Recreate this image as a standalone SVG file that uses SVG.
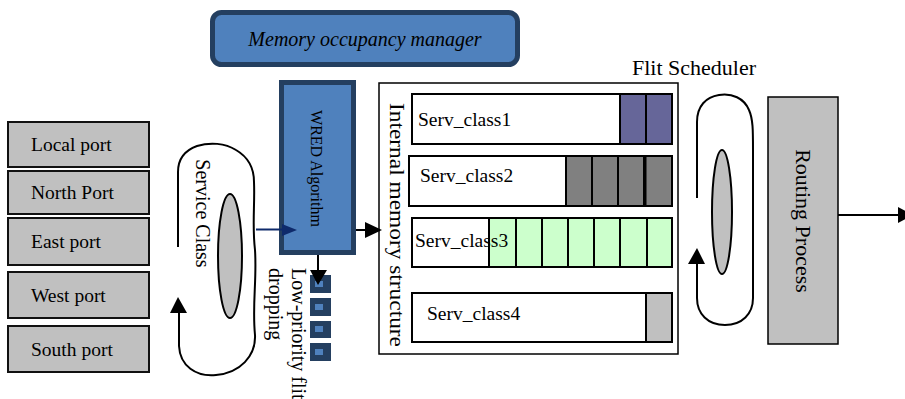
<svg xmlns="http://www.w3.org/2000/svg" width="905" height="399" viewBox="0 0 905 399">
  <defs>
    <style>
      text { font-family: "Liberation Serif", "Times New Roman", serif; fill: #000; }
      .port rect { fill: #c0c0c0; stroke: #111; stroke-width: 2; }
      .port text { font-size: 19.5px; }
      .blue { fill: #4f81bd; stroke: #243f60; stroke-width: 5; }
      .queue { fill: #fff; stroke: #000; stroke-width: 2; }
      .cell { stroke: #000; stroke-width: 2; }
      .qlabel { font-size: 19.5px; }
      .loop { fill: none; stroke: #000; stroke-width: 2; }
      .hub { fill: #c0c0c0; stroke: #000; stroke-width: 2; }
      .line { stroke: #000; stroke-width: 2; fill: none; }
      .flit { fill: #243f60; }
      .flit-in { fill: #4f81bd; }
    </style>
  </defs>

  <!-- Input ports -->
  <g id="local-port" class="port"><rect x="8" y="122" width="141" height="45"/><text x="31" y="151">Local port</text></g>
  <g id="north-port" class="port"><rect x="8" y="171" width="141" height="43"/><text x="31" y="199">North Port</text></g>
  <g id="east-port" class="port"><rect x="8" y="218" width="141" height="47"/><text x="31" y="248">East port</text></g>
  <g id="west-port" class="port"><rect x="8" y="272" width="141" height="46"/><text x="31" y="302">West port</text></g>
  <g id="south-port" class="port"><rect x="8" y="326" width="141" height="46"/><text x="31" y="356">South port</text></g>

  <!-- Service class selector loop -->
  <g id="service-class">
    <path class="loop" d="M178,247 L178,172 C178,158 186,150 197,146 C210,142 225,143 236,150 C248,157 254,167 254,182 C255,205 252,225 255,250 C257,280 252,305 255,335 C256,356 240,373 216,375 C196,377 180,366 179,346 L179,312"/>
    <polygon points="178,297 170,313 187,313" fill="#000"/>
    <ellipse class="hub" cx="230" cy="256" rx="12" ry="62"/>
    <text transform="translate(196,213.5) rotate(90)" text-anchor="middle" font-size="20">Service Class</text>
  </g>

  <!-- Memory occupancy manager -->
  <g id="memory-manager">
    <rect class="blue" x="212.5" y="12.5" width="305" height="52" rx="9"/>
    <text x="365" y="46" text-anchor="middle" font-size="20" font-style="italic">Memory occupancy manager</text>
  </g>

  <!-- WRED algorithm -->
  <g id="wred">
    <rect class="blue" x="281.5" y="82.5" width="72" height="170"/>
    <text transform="translate(311,168.5) rotate(90)" text-anchor="middle" font-size="16">WRED Algorithm</text>
  </g>

  <!-- Dropped low-priority flits -->
  <g id="dropped-flits">
    <rect class="flit" x="310" y="275" width="21" height="18"/><rect class="flit-in" x="315" y="281" width="8" height="6"/>
    <rect class="flit" x="310" y="298" width="21" height="18"/><rect class="flit-in" x="315" y="304" width="8" height="6"/>
    <rect class="flit" x="310" y="321" width="21" height="17"/><rect class="flit-in" x="315" y="326" width="8" height="6"/>
    <rect class="flit" x="310" y="343" width="21" height="18"/><rect class="flit-in" x="315" y="349" width="8" height="6"/>
    <text transform="translate(292,268) rotate(90)" font-size="20">Low-priority flit</text>
    <text transform="translate(269,268) rotate(90)" font-size="20">dropping</text>
  </g>

  <!-- Internal memory structure -->
  <g id="memory-structure">
    <rect x="379" y="83" width="299" height="271" fill="#fff" stroke="#000" stroke-width="1.5"/>
    <text transform="translate(390,103) rotate(90)" font-size="22" textLength="244" lengthAdjust="spacingAndGlyphs">Internal memory structure</text>
  </g>

  <g id="serv-class1">
    <rect class="queue" x="412" y="94" width="260" height="50"/>
    <rect class="cell" x="620" y="94" width="26" height="50" fill="#666699"/>
    <rect class="cell" x="646" y="94" width="26" height="50" fill="#666699"/>
    <text class="qlabel" x="418" y="126">Serv_class1</text>
  </g>

  <g id="serv-class2">
    <rect class="queue" x="409" y="156" width="263" height="50"/>
    <rect class="cell" x="566" y="156" width="26" height="50" fill="#808080"/>
    <rect class="cell" x="592" y="156" width="26" height="50" fill="#808080"/>
    <rect class="cell" x="618" y="156" width="26" height="50" fill="#808080"/>
    <rect class="cell" x="644" y="156" width="28" height="50" fill="#808080"/>
    <line x1="645" y1="156" x2="645" y2="206" stroke="#000" stroke-width="3"/>
    <text class="qlabel" x="420" y="182">Serv_class2</text>
  </g>

  <g id="serv-class3">
    <rect class="queue" x="412" y="218" width="260" height="49"/>
    <rect class="cell" x="489" y="218" width="27" height="49" fill="#ccffcc"/>
    <rect class="cell" x="516" y="218" width="26" height="49" fill="#ccffcc"/>
    <rect class="cell" x="542" y="218" width="26" height="49" fill="#ccffcc"/>
    <rect class="cell" x="568" y="218" width="26" height="49" fill="#ccffcc"/>
    <rect class="cell" x="594" y="218" width="26" height="49" fill="#ccffcc"/>
    <rect class="cell" x="620" y="218" width="27" height="49" fill="#ccffcc"/>
    <rect class="cell" x="647" y="218" width="25" height="49" fill="#ccffcc"/>
    <text class="qlabel" x="415" y="247">Serv_class3</text>
  </g>

  <g id="serv-class4">
    <rect class="queue" x="412" y="293" width="260" height="49"/>
    <rect class="cell" x="646" y="293" width="26" height="49" fill="#c0c0c0"/>
    <text class="qlabel" x="427" y="320">Serv_class4</text>
  </g>

  <!-- Flit scheduler -->
  <g id="flit-scheduler">
    <text x="632" y="75" font-size="22">Flit Scheduler</text>
    <path class="loop" d="M697,198 L697,122 C697,106 706,97 719,95 C732,93 744,98 749,110 C753,119 753,130 753,150 L753,298 C753,314 742,325 725,325 C708,325 697,314 697,298 L697,262"/>
    <polygon points="697,248 688,264 705,264" fill="#000"/>
    <ellipse class="hub" cx="722" cy="212" rx="10" ry="62"/>
  </g>

  <!-- Routing process -->
  <g id="routing-process">
    <rect x="768" y="97" width="70" height="247" fill="#c0c0c0" stroke="#000" stroke-width="1.5"/>
    <text transform="translate(796,221) rotate(90)" text-anchor="middle" font-size="22">Routing Process</text>
  </g>

  <!-- Connectors -->
  <g id="connectors">
    <line x1="256" y1="229.5" x2="283" y2="229.5" stroke="#0e2a6b" stroke-width="2"/>
    <polygon points="282,224 297,230 282,236" fill="#0e2a6b"/>
    <line class="line" x1="356" y1="230" x2="366" y2="230"/>
    <polygon points="365,222 382,230 365,238" fill="#000"/>
    <line class="line" x1="318" y1="255" x2="318" y2="271"/>
    <polygon points="310,270 327,270 318,285" fill="#000"/>
    <line class="line" x1="838" y1="215" x2="899" y2="215"/>
    <polygon points="898,207 913,215 898,223" fill="#000"/>
  </g>
</svg>
